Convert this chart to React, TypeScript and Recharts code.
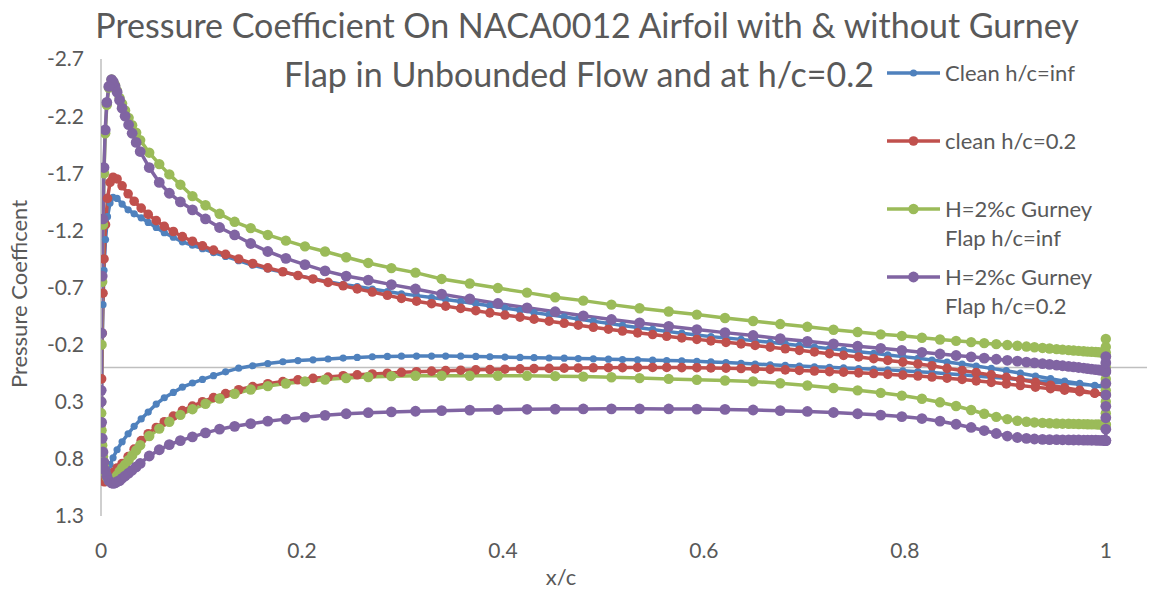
import React from 'react';
import { LineChart, Line, XAxis, YAxis, ReferenceLine } from 'recharts';

// x/c stations used by the two clean-airfoil runs (fine mesh)
const FINE_X = [
  0.0002, 0.0006, 0.0012, 0.002, 0.003, 0.0045, 0.0065, 0.009, 0.012, 0.016,
  0.021, 0.027, 0.033, 0.04, 0.047, 0.055, 0.063, 0.072, 0.081, 0.091,
  0.101, 0.112, 0.124, 0.137, 0.151, 0.166, 0.181, 0.196, 0.211, 0.226,
  0.241, 0.255, 0.27, 0.285, 0.299, 0.314, 0.329, 0.343, 0.358, 0.373,
  0.387, 0.402, 0.417, 0.431, 0.446, 0.461, 0.475, 0.49, 0.505, 0.519,
  0.534, 0.549, 0.563, 0.578, 0.593, 0.607, 0.622, 0.637, 0.651, 0.666,
  0.681, 0.695, 0.71, 0.725, 0.739, 0.754, 0.769, 0.783, 0.798, 0.813,
  0.827, 0.842, 0.857, 0.871, 0.886, 0.901, 0.915, 0.93, 0.945, 0.959,
  0.974, 0.989, 1.0,
];

// x/c stations used by the gurney flap runs (coarser, clustered at LE and TE)
const COARSE_X = [
  0.0002, 0.0006, 0.0012, 0.002, 0.003, 0.0042, 0.0058, 0.0078, 0.0105, 0.0122,
  0.014, 0.016, 0.0185, 0.021, 0.024, 0.0275, 0.031, 0.035, 0.039, 0.048,
  0.058, 0.068, 0.079, 0.091, 0.104, 0.118, 0.133, 0.149, 0.166, 0.184,
  0.203, 0.223, 0.244, 0.266, 0.289, 0.313, 0.339, 0.367, 0.395, 0.424,
  0.452, 0.48, 0.508, 0.536, 0.565, 0.593, 0.621, 0.649, 0.676, 0.703,
  0.729, 0.753, 0.776, 0.797, 0.817, 0.835, 0.851, 0.866, 0.879, 0.891,
  0.902, 0.912, 0.921, 0.929, 0.937, 0.944, 0.951, 0.957, 0.963, 0.968,
  0.973, 0.978, 0.982, 0.986, 0.99, 0.993, 0.996, 0.998, 1.0,
];

const cleanInfUpper = [
  0.6, 0.2, -0.2, -0.55, -0.85, -1.12, -1.32, -1.44, -1.49, -1.48,
  -1.43, -1.38, -1.345, -1.31, -1.27, -1.225, -1.18, -1.14, -1.1, -1.07,
  -1.04, -1.005, -0.972, -0.935, -0.895, -0.862, -0.835, -0.806, -0.778, -0.75,
  -0.727, -0.708, -0.686, -0.665, -0.645, -0.629, -0.612, -0.595, -0.577, -0.558,
  -0.54, -0.52, -0.5, -0.48, -0.462, -0.443, -0.424, -0.405, -0.386, -0.368,
  -0.35, -0.333, -0.316, -0.3, -0.284, -0.27, -0.258, -0.246, -0.233, -0.22,
  -0.206, -0.193, -0.179, -0.165, -0.152, -0.138, -0.124, -0.11, -0.095, -0.08,
  -0.065, -0.048, -0.03, -0.012, 0.008, 0.028, 0.05, 0.075, 0.098, 0.12,
  0.14, 0.16, 0.175,
];
const cleanInfLower = [
  0.75, 0.88, 0.96, 1.0, 0.99, 0.96, 0.91, 0.85, 0.79, 0.72,
  0.65, 0.58, 0.515, 0.45, 0.39, 0.32, 0.265, 0.218, 0.172, 0.136,
  0.105, 0.072, 0.038, 0.006, -0.015, -0.035, -0.05, -0.06, -0.067, -0.074,
  -0.082, -0.088, -0.094, -0.097, -0.099, -0.1, -0.1, -0.1, -0.099, -0.097,
  -0.094, -0.091, -0.088, -0.086, -0.083, -0.081, -0.078, -0.076, -0.073, -0.07,
  -0.067, -0.064, -0.061, -0.058, -0.054, -0.049, -0.043, -0.036, -0.03, -0.024,
  -0.018, -0.012, -0.006, -0.001, 0.004, 0.009, 0.015, 0.021, 0.029, 0.037,
  0.045, 0.054, 0.064, 0.074, 0.085, 0.095, 0.106, 0.117, 0.127, 0.137,
  0.146, 0.156, 0.165,
];

const cleanGroundUpper = [
  0.5, 0.1, -0.3, -0.65, -0.95, -1.25, -1.48, -1.62, -1.665, -1.65,
  -1.59, -1.52, -1.455, -1.395, -1.34, -1.285, -1.235, -1.19, -1.145, -1.105,
  -1.065, -1.027, -0.99, -0.95, -0.91, -0.872, -0.838, -0.805, -0.775, -0.745,
  -0.715, -0.688, -0.66, -0.632, -0.605, -0.58, -0.558, -0.537, -0.517, -0.497,
  -0.478, -0.459, -0.441, -0.423, -0.405, -0.387, -0.37, -0.352, -0.335, -0.319,
  -0.303, -0.288, -0.273, -0.259, -0.246, -0.233, -0.22, -0.207, -0.193, -0.178,
  -0.164, -0.15, -0.136, -0.121, -0.106, -0.092, -0.077, -0.062, -0.047, -0.031,
  -0.015, 0.008, 0.026, 0.045, 0.065, 0.086, 0.108, 0.13, 0.155, 0.178,
  0.2, 0.225, 0.245,
];
const cleanGroundLower = [
  0.7, 0.84, 0.93, 0.98, 1.0, 1.0, 0.98, 0.95, 0.92, 0.88,
  0.84, 0.78, 0.715, 0.64, 0.58, 0.525, 0.475, 0.425, 0.378, 0.338,
  0.3, 0.263, 0.228, 0.195, 0.167, 0.142, 0.123, 0.108, 0.095, 0.084,
  0.072, 0.064, 0.057, 0.05, 0.042, 0.037, 0.032, 0.028, 0.024, 0.021,
  0.018, 0.015, 0.012, 0.01, 0.008, 0.006, 0.004, 0.003, 0.002, 0.001,
  0.0, 0.0, 0.0, 0.001, 0.002, 0.004, 0.006, 0.009, 0.013, 0.017,
  0.021, 0.026, 0.031, 0.036, 0.041, 0.047, 0.053, 0.06, 0.067, 0.075,
  0.084, 0.094, 0.105, 0.117, 0.13, 0.144, 0.158, 0.172, 0.186, 0.199,
  0.212, 0.225, 0.235,
];

const gurneyInfUpper = [
  0.3, -0.2, -0.75, -1.25, -1.7, -2.05, -2.3, -2.45, -2.52, -2.5,
  -2.47, -2.42, -2.36, -2.31, -2.25, -2.185, -2.12, -2.055, -1.99, -1.88,
  -1.78, -1.69, -1.6, -1.5, -1.42, -1.345, -1.275, -1.22, -1.16, -1.11,
  -1.06, -1.015, -0.965, -0.915, -0.87, -0.83, -0.775, -0.735, -0.695, -0.655,
  -0.615, -0.585, -0.55, -0.518, -0.49, -0.463, -0.433, -0.407, -0.38, -0.356,
  -0.33, -0.31, -0.29, -0.277, -0.26, -0.245, -0.233, -0.222, -0.213, -0.204,
  -0.197, -0.19, -0.183, -0.177, -0.171, -0.166, -0.161, -0.156, -0.152, -0.148,
  -0.145, -0.142, -0.139, -0.137, -0.135, -0.133, -0.131, -0.13, -0.13,
];
const gurneyInfLower = [
  0.4, 0.55, 0.68, 0.78, 0.86, 0.92, 0.96, 0.99, 1.0, 0.99,
  0.97, 0.945, 0.91, 0.88, 0.85, 0.81, 0.77, 0.725, 0.68, 0.6,
  0.535, 0.475, 0.415, 0.365, 0.318, 0.272, 0.23, 0.193, 0.163, 0.14,
  0.122, 0.106, 0.093, 0.083, 0.076, 0.073, 0.072, 0.072, 0.072, 0.073,
  0.076, 0.08, 0.086, 0.093, 0.1, 0.107, 0.114, 0.122, 0.138, 0.158,
  0.18, 0.2, 0.222, 0.246, 0.274, 0.305, 0.337, 0.372, 0.405, 0.432,
  0.452, 0.466, 0.475, 0.481, 0.485, 0.488, 0.49, 0.492, 0.493, 0.494,
  0.495, 0.496, 0.497, 0.498, 0.498, 0.499, 0.5, 0.5, 0.5,
];
const gurneyInfFlap = [0.5, 0.4, 0.3, 0.2, 0.1, 0.0, -0.1, -0.18, -0.25];

const gurneyGroundUpper = [
  0.2, -0.3, -0.8, -1.3, -1.75, -2.08, -2.32, -2.46, -2.52, -2.5,
  -2.46, -2.41, -2.34, -2.27, -2.2, -2.125, -2.05, -1.97, -1.89, -1.75,
  -1.62, -1.525, -1.45, -1.38, -1.3, -1.225, -1.16, -1.085, -1.015, -0.955,
  -0.9, -0.845, -0.8, -0.765, -0.725, -0.687, -0.642, -0.6, -0.56, -0.522,
  -0.488, -0.452, -0.42, -0.39, -0.36, -0.332, -0.305, -0.28, -0.252, -0.229,
  -0.206, -0.186, -0.168, -0.15, -0.133, -0.118, -0.105, -0.093, -0.082, -0.072,
  -0.063, -0.055, -0.047, -0.04, -0.033, -0.027, -0.021, -0.015, -0.01, -0.005,
  0.0, 0.005, 0.01, 0.015, 0.019, 0.022, 0.025, 0.027, 0.028,
];
const gurneyGroundLower = [
  0.3, 0.48, 0.62, 0.74, 0.83, 0.9, 0.95, 0.99, 1.01, 1.015,
  1.01, 1.0, 0.99, 0.97, 0.95, 0.925, 0.9, 0.87, 0.84, 0.775,
  0.72, 0.675, 0.64, 0.607, 0.572, 0.54, 0.515, 0.492, 0.47, 0.452,
  0.435, 0.419, 0.405, 0.396, 0.389, 0.383, 0.378, 0.373, 0.369, 0.366,
  0.364, 0.363, 0.362, 0.362, 0.363, 0.364, 0.367, 0.372, 0.378, 0.385,
  0.394, 0.405, 0.417, 0.43, 0.447, 0.47, 0.497, 0.525, 0.552, 0.578,
  0.6, 0.613, 0.621, 0.626, 0.629, 0.631, 0.632, 0.633, 0.634, 0.635,
  0.635, 0.636, 0.636, 0.637, 0.637, 0.638, 0.638, 0.639, 0.64,
];
const gurneyGroundFlap = [0.64, 0.54, 0.44, 0.34, 0.24, 0.14, 0.04, -0.04, -0.095];

const X_TICKS = [0, 0.2, 0.4, 0.6, 0.8, 1];
const CP_TICKS = [-2.7, -2.2, -1.7, -1.2, -0.7, -0.2, 0.3, 0.8, 1.3];

type Pt = { x: number; cp: number };

// upper surface TE -> LE, then lower surface LE -> TE, then the flap face at x/c = 1
const buildLoop = (xs: number[], upper: number[], lower: number[], flap: number[] = []): Pt[] => [
  ...xs.map((x, i) => ({ x, cp: upper[i] })).reverse(),
  ...xs.map((x, i) => ({ x, cp: lower[i] })),
  ...flap.map((cp) => ({ x: 1, cp })),
];

const series = [
  { name: 'Clean h/c=inf', lines: ['Clean h/c=inf'], color: '#4F81BD', r: 3.6, legendY: 73,
    data: buildLoop(FINE_X, cleanInfUpper, cleanInfLower) },
  { name: 'clean h/c=0.2', lines: ['clean h/c=0.2'], color: '#C0504D', r: 4.8, legendY: 141,
    data: buildLoop(FINE_X, cleanGroundUpper, cleanGroundLower) },
  { name: 'H=2%c Gurney Flap h/c=inf', lines: ['H=2%c Gurney', 'Flap h/c=inf'], color: '#9BBB59', r: 5.2, legendY: 209,
    data: buildLoop(COARSE_X, gurneyInfUpper, gurneyInfLower, gurneyInfFlap) },
  { name: 'H=2%c Gurney Flap h/c=0.2', lines: ['H=2%c Gurney', 'Flap h/c=0.2'], color: '#8064A2', r: 5.4, legendY: 277,
    data: buildLoop(COARSE_X, gurneyGroundUpper, gurneyGroundLower, gurneyGroundFlap) },
];

const TEXT = '#595959';
const AXIS = '#bfbfbf';

const App: React.FC = () => {
  return (
    <div style={{ position: 'absolute', left: 0, top: 0, width: 1149, height: 592, background: '#fff', fontFamily: 'Lato, "Open Sans", sans-serif' }}>
      <LineChart width={1149} height={592} margin={{ top: 59, right: 2, bottom: 0, left: 41 }}>
        <XAxis
          type="number"
          dataKey="x"
          domain={[0, 1.041]}
          ticks={X_TICKS}
          interval={0}
          allowDataOverflow
          axisLine={false}
          tickLine={false}
          height={76}
          tickMargin={21}
          tick={{ fontSize: 21, fill: TEXT }}
          tickFormatter={(v: number) => String(v)}
        />
        <YAxis
          type="number"
          domain={[-2.7, 1.3]}
          ticks={CP_TICKS}
          interval={0}
          reversed
          allowDataOverflow
          width={60}
          axisLine={{ stroke: AXIS, strokeWidth: 1.5 }}
          tickLine={false}
          tickMargin={11}
          tick={{ fontSize: 21, fill: TEXT }}
          tickFormatter={(v: number) => v.toFixed(1)}
        />
        <ReferenceLine y={0} stroke={AXIS} strokeWidth={1.5} />
        {series.map((s) => (
          <Line
            key={s.name}
            data={s.data}
            dataKey="cp"
            name={s.name}
            type="linear"
            stroke={s.color}
            strokeWidth={3.5}
            dot={{ r: s.r, fill: s.color, stroke: s.color, strokeWidth: 0 }}
            activeDot={false}
            isAnimationActive={false}
          />
        ))}
      </LineChart>

      <svg width={1149} height={592} style={{ position: 'absolute', left: 0, top: 0, pointerEvents: 'none' }}>
        <text x={587} y={38} textAnchor="middle" fontSize={34} fill={TEXT}>
          Pressure Coefficient On NACA0012 Airfoil with &amp; without Gurney
        </text>
        <text x={579} y={87} textAnchor="middle" fontSize={34} fill={TEXT}>
          Flap in Unbounded Flow and at h/c=0.2
        </text>
        <text x={27} y={294} transform="rotate(-90 27 294)" textAnchor="middle" fontSize={22} fill={TEXT}>
          Pressure Coefficent
        </text>
        <text x={561} y={585} textAnchor="middle" fontSize={22} fill={TEXT}>
          x/c
        </text>
        {series.map((s) => (
          <g key={s.name}>
            <line x1={887} x2={940} y1={s.legendY} y2={s.legendY} stroke={s.color} strokeWidth={3.5} />
            <circle cx={913.5} cy={s.legendY} r={s.r} fill={s.color} />
            {s.lines.map((t, i) => (
              <text key={t} x={945} y={s.legendY + 8 + i * 28.5} fontSize={22} fill={TEXT}>
                {t}
              </text>
            ))}
          </g>
        ))}
      </svg>
    </div>
  );
};

export default App;
